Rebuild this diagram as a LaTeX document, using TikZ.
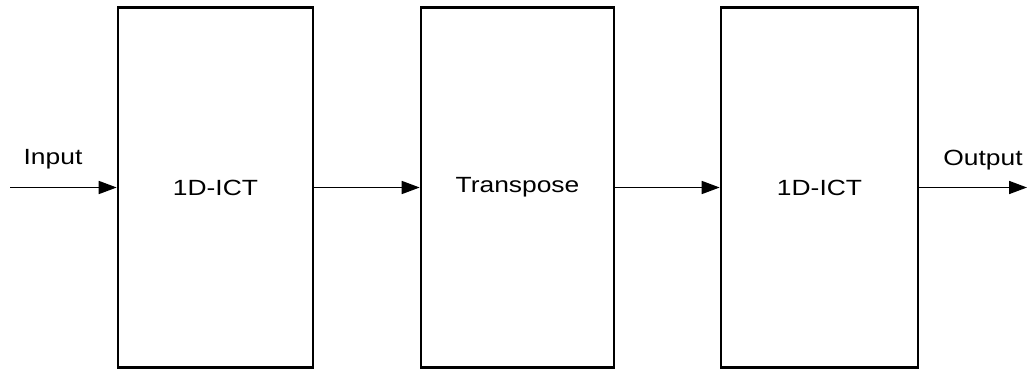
\documentclass[tikz,border=0pt]{standalone}
\usepackage{fontspec}
\setmainfont[FakeStretch=1.2]{Liberation Sans}
\usetikzlibrary{arrows.meta}
\begin{document}
\begin{tikzpicture}[x=1pt,y=-1pt,
  every node/.style={font=\fontsize{22}{26}\selectfont},
  blk/.style={draw,line width=2.6pt,minimum height=360pt,inner sep=0pt},
  flow/.style={line width=1.6pt,-{Triangle[length=18pt,width=13pt]}}]
  \useasboundingbox (0,0) rectangle (1028,369);
  \node[blk,minimum width=195pt] (ict1) at (215.5,187.5) {1D-ICT};
  \node[blk,minimum width=193pt] (trans) at (517.5,187.5) {Transpose};
  \node[blk,minimum width=197pt] (ict2) at (819.5,187.5) {1D-ICT};
  \coordinate (in) at (10,187.5);
  \coordinate (out) at (1027,187.5);
  \node (inlbl) at (53,159) {Input};
  \node (outlbl) at (983,160) {Output};
  \draw[flow] (in) -- (ict1.west);
  \draw[flow] (ict1.east) -- (trans.west);
  \draw[flow] (trans.east) -- (ict2.west);
  \draw[flow] (ict2.east) -- (out);
\end{tikzpicture}
\end{document}
